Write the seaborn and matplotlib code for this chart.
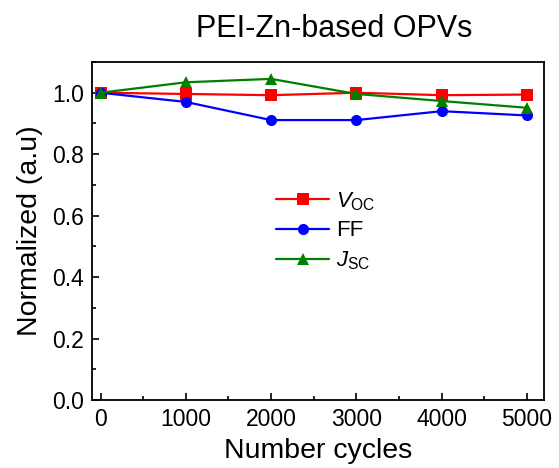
import numpy as np
import pandas as pd
import matplotlib
matplotlib.use("Agg")
import matplotlib.pyplot as plt
from matplotlib.ticker import MultipleLocator, FormatStrFormatter
import seaborn as sns

cycles = [0, 1000, 2000, 3000, 4000, 5000]
voc = [1.000, 0.996, 0.992, 1.000, 0.992, 0.994]
ff = [1.000, 0.970, 0.911, 0.911, 0.940, 0.926]
jsc = [1.000, 1.034, 1.045, 0.996, 0.973, 0.951]

series_names = [r"$V_{\mathrm{OC}}$", "FF", r"$J_{\mathrm{SC}}$"]
colors = ["#ff0000", "#0000ff", "#008000"]
markers = ["s", "o", "^"]

df = pd.DataFrame({
    "cycles": cycles * 3,
    "value": voc + ff + jsc,
    "series": sum([[n] * len(cycles) for n in series_names], []),
})

sns.set_style("ticks")
plt.rcParams["font.family"] = ["Liberation Sans", "DejaVu Sans"]
plt.rcParams["mathtext.fontset"] = "custom"
plt.rcParams["mathtext.rm"] = "Liberation Sans"
plt.rcParams["mathtext.it"] = "Liberation Sans:italic"
for key in ["text.color", "axes.labelcolor", "xtick.color", "ytick.color", "axes.edgecolor"]:
    plt.rcParams[key] = "black"

fig = plt.figure(figsize=(5.59, 4.68), dpi=100)
ax = fig.add_axes([92 / 559, 68 / 468, 452 / 559, 338 / 468])

sns.lineplot(data=df, x="cycles", y="value", hue="series", style="series",
             palette=colors, markers=markers, dashes=False, markersize=8,
             markeredgewidth=0, linewidth=1.6, ax=ax)

ax.set_xlim(-100, 5200)
ax.set_ylim(0, 1.1)
ax.xaxis.set_major_locator(MultipleLocator(1000))
ax.xaxis.set_minor_locator(MultipleLocator(500))
ax.yaxis.set_major_locator(MultipleLocator(0.2))
ax.yaxis.set_minor_locator(MultipleLocator(0.1))
ax.yaxis.set_major_formatter(FormatStrFormatter("%.1f"))
ax.tick_params(which="both", direction="in", top=False, right=False,
               labelsize=16.5, width=1.2)
ax.tick_params(which="major", length=5, pad=6)
ax.tick_params(which="minor", length=3)
for sp in ax.spines.values():
    sp.set_linewidth(1.3)

ax.set_xlabel("Number cycles", fontsize=20.5, labelpad=5)
ax.set_ylabel("Normalized (a.u)", fontsize=20.5, labelpad=6)
ax.set_title("PEI-Zn-based OPVs", fontsize=22, pad=18, x=0.535)

handles, labels = ax.get_legend_handles_labels()
ax.legend(handles, labels, loc="center left", bbox_to_anchor=(0.363, 0.5),
          frameon=False, fontsize=16, handlelength=2.4, handletextpad=0.3,
          labelspacing=0.35, markerscale=1.0)

fig.savefig("out.png", dpi=100)
